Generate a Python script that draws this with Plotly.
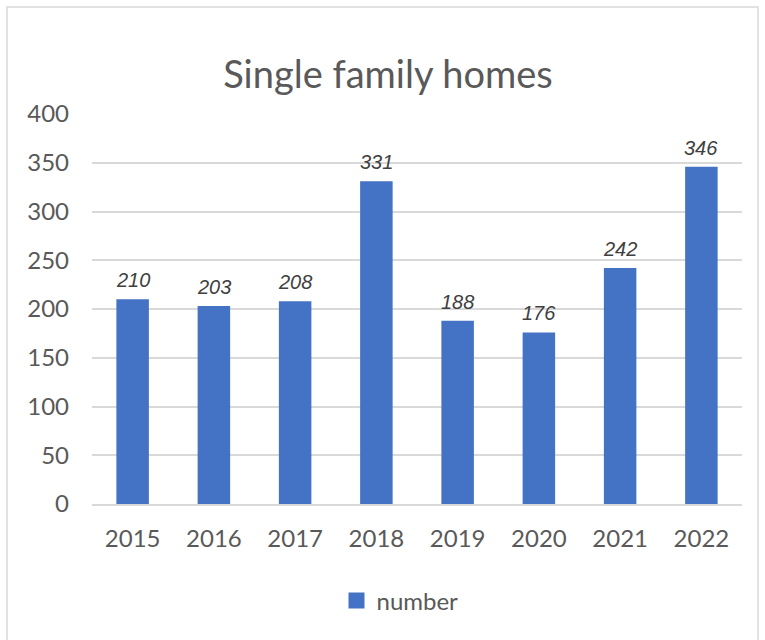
import plotly.graph_objects as go

years = ["2015", "2016", "2017", "2018", "2019", "2020", "2021", "2022"]
numbers = [210, 203, 208, 331, 188, 176, 242, 346]
y_ticks = [0, 50, 100, 150, 200, 250, 300, 350, 400]

W, H = 765, 640
L, R, T, B = 92, 23, 114, 136
pw, ph = W - L - R, H - T - B

def px_x(p):
    return (p - L) / pw

def px_y(p):
    return (H - B - p) / ph

BLUE = "#4472C4"
fig = go.Figure()
fig.add_trace(go.Bar(
    x=years, y=numbers, name="number", showlegend=False,
    marker=dict(color=BLUE, line=dict(width=0)),
    hoverinfo="x+y",
))
# legend entry with a square swatch
fig.add_trace(go.Scatter(
    x=[years[0]], y=[None], mode="markers", name="number",
    marker=dict(symbol="square", size=16, color=BLUE),
))

# data labels: on a category axis, annotation x is the category index
annotations = [
    dict(x=i, y=v, xref="x", yref="y", text=str(v), showarrow=False,
         yanchor="bottom", yshift=6,
         font=dict(family="Liberation Sans, Arial", size=20, color="#404040", style="italic"))
    for i, v in enumerate(numbers)
]

fig.update_layout(
    width=W, height=H,
    margin=dict(l=L, r=R, t=T, b=B, autoexpand=False),
    paper_bgcolor="white", plot_bgcolor="white",
    bargap=0.6,
    showlegend=True,
    annotations=annotations,
    title=dict(text="Single family homes", x=(388 - L) / pw, xref="paper", xanchor="center",
               y=1 - 75 / H, yanchor="middle",
               font=dict(family="Lato, Open Sans", size=38, color="#595959")),
    legend=dict(orientation="h", x=px_x(400), xanchor="center",
                y=px_y(601), yanchor="middle",
                font=dict(family="Lato, Open Sans", size=24, color="#595959"),
                itemwidth=30),
    shapes=[dict(type="rect", xref="paper", yref="paper",
                 x0=px_x(7), x1=px_x(758), y0=px_y(646), y1=px_y(7),
                 line=dict(color="#D9D9D9", width=1.5), fillcolor="rgba(0,0,0,0)", layer="below")],
    font=dict(family="Lato, Open Sans", color="#595959"),
)
fig.update_xaxes(
    type="category", categoryorder="array", categoryarray=years,
    range=[-0.5, len(years) - 0.5],
    showgrid=False, showline=True, linecolor="#D9D9D9", linewidth=1.5,
    tickfont=dict(family="Lato, Open Sans", size=24, color="#595959"),
    ticks="", ticklabelstandoff=12,
)
fig.update_yaxes(
    range=[0, 400], tickvals=y_ticks, ticktext=[str(v) for v in y_ticks],
    showgrid=True, gridcolor="#D9D9D9", gridwidth=1.5, zeroline=False,
    tickfont=dict(family="Lato, Open Sans", size=24, color="#595959"),
    ticks="", ticklabelstandoff=22,
)
fig.write_html("out.html", config={"displayModeBar": False},
               post_script="document.body.style.margin='0';")
